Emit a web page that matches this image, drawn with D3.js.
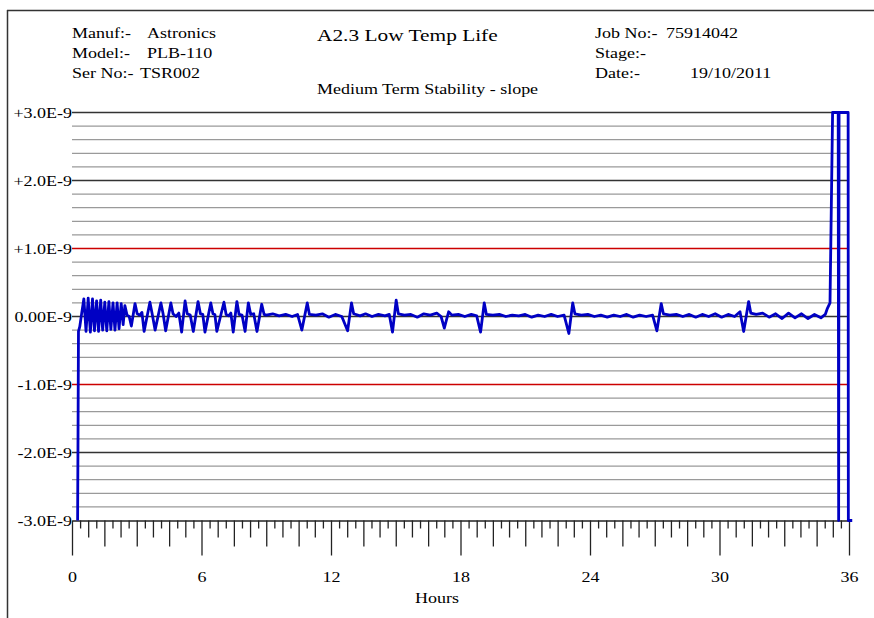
<!DOCTYPE html>
<html>
<head>
<meta charset="utf-8">
<script src="https://cdn.jsdelivr.net/npm/d3@7"></script>
<style>
  html, body { margin: 0; padding: 0; background: #ffffff; }
  svg { display: block; }
  text { font-family: "Liberation Serif", "Times New Roman", serif; fill: #000; }
</style>
</head>
<body>
<svg id="chart" width="874" height="618"></svg>
<script>
// ---------------- data ----------------
const headerLeftLabels = ["Manuf:-", "Model:-", "Ser No:-"];
const headerLeftValues = ["Astronics", "PLB-110", "TSR002"];
const headerRightLabels = ["Job No:-", "Stage:-", "Date:-"];
const headerRightValues = ["75914042", "", "19/10/2011"];
const chartTitle = "A2.3 Low Temp Life";
const chartSubtitle = "Medium Term Stability - slope";
const xAxisTitle = "Hours";

const yTickValues = [3, 2, 1, 0, -1, -2, -3];
const yTickLabels = ["+3.0E-9", "+2.0E-9", "+1.0E-9", "0.00E-9", "-1.0E-9", "-2.0E-9", "-3.0E-9"];
const xLabelValues = [0, 6, 12, 18, 24, 30, 36];

// time in hours
const hours = [
  0.26, 0.28, 0.30, 0.36, 0.45, 0.55, 0.65, 0.75, 0.85, 0.95,
  1.04, 1.14, 1.23, 1.33, 1.42, 1.52, 1.61, 1.71, 1.80, 1.90,
  1.99, 2.09, 2.18, 2.28, 2.37, 2.45, 2.55, 2.65, 2.75, 2.92,
  3.02, 3.14, 3.24, 3.34, 3.61, 3.72, 3.85, 4.12, 4.22, 4.34,
  4.58, 4.68, 4.82, 4.95, 5.08, 5.24, 5.34, 5.48, 5.62, 5.84,
  5.95, 6.06, 6.16, 6.43, 6.53, 6.62, 6.71, 7.04, 7.14, 7.26,
  7.36, 7.47, 7.64, 7.74, 7.88, 8.02, 8.17, 8.28, 8.42, 8.57,
  8.79, 8.90, 9.00, 9.30, 9.60, 9.90, 10.20, 10.45, 10.65, 10.90,
  11.00, 11.30, 11.60, 11.90, 12.20, 12.50, 12.77, 12.95, 13.05, 13.35,
  13.60, 13.90, 14.20, 14.50, 14.70, 14.85, 15.02, 15.12, 15.40, 15.70,
  16.00, 16.30, 16.60, 16.90, 17.10, 17.25, 17.45, 17.60, 17.90, 18.20,
  18.50, 18.75, 18.93, 19.10, 19.20, 19.50, 19.80, 20.10, 20.40, 20.70,
  21.00, 21.30, 21.60, 21.90, 22.20, 22.50, 22.80, 23.02, 23.20, 23.30,
  23.60, 23.90, 24.20, 24.50, 24.80, 25.10, 25.40, 25.70, 26.00, 26.30,
  26.60, 26.90, 27.10, 27.30, 27.40, 27.70, 28.00, 28.30, 28.60, 28.90,
  29.20, 29.50, 29.80, 30.10, 30.40, 30.70, 30.95, 31.12, 31.35, 31.45,
  31.70, 32.00, 32.30, 32.60, 32.90, 33.20, 33.50, 33.80, 34.10, 34.40,
  34.70, 34.90, 35.00, 35.12, 35.24, 35.50, 35.52, 35.54, 35.96, 35.97,
  36.15
];

// medium term stability slope, units of 1E-9
const slopeE9 = [
  -3.00, -1.70, -0.22, -0.15, 0.05, 0.26, -0.22, 0.27, -0.23, 0.26,
  -0.21, 0.23, -0.22, 0.24, -0.20, 0.21, -0.21, 0.22, -0.19, 0.20,
  -0.20, 0.20, -0.18, 0.19, -0.12, 0.16, 0.02, 0.00, -0.14, 0.19,
  0.04, 0.02, 0.06, -0.22, 0.21, 0.03, -0.20, 0.20, 0.04, -0.21,
  0.20, 0.04, 0.00, 0.05, -0.23, 0.23, 0.04, 0.02, -0.22, 0.22,
  0.04, 0.03, -0.23, 0.20, 0.04, 0.03, -0.22, 0.21, 0.03, 0.01,
  0.05, -0.23, 0.22, 0.03, 0.02, -0.22, 0.20, 0.03, 0.04, -0.22,
  0.18, 0.03, 0.02, 0.04, 0.01, 0.03, 0.00, 0.03, -0.20, 0.20,
  0.03, 0.02, 0.04, -0.01, 0.03, 0.00, -0.21, 0.20, 0.04, 0.01,
  0.04, 0.00, 0.03, 0.01, 0.03, -0.23, 0.24, 0.04, 0.02, 0.03,
  -0.01, 0.04, 0.02, 0.05, 0.00, -0.17, 0.07, 0.02, 0.03, 0.00,
  0.03, 0.01, -0.23, 0.20, 0.03, 0.02, 0.03, 0.00, 0.02, 0.01,
  0.03, -0.01, 0.02, 0.00, 0.03, 0.00, 0.02, -0.25, 0.20, 0.04,
  0.02, 0.03, 0.00, 0.02, -0.01, 0.02, 0.00, 0.03, -0.01, 0.02,
  0.00, 0.02, -0.21, 0.19, 0.04, 0.02, 0.03, 0.00, 0.03, -0.01,
  0.03, 0.00, 0.04, -0.01, 0.03, 0.00, 0.07, -0.22, 0.22, 0.05,
  0.03, 0.05, -0.01, 0.04, -0.03, 0.05, -0.02, 0.04, -0.03, 0.03,
  -0.02, 0.03, 0.12, 0.20, 3.00, 3.00, -3.00, 3.00, 3.00, -3.00,
  -3.00
];

// ---------------- drawing ----------------
const svg = d3.select("#chart");
const SX = 1.2; // horizontal stretch of the lettering in the original

const x = d3.scaleLinear().domain([0, 36]).range([72, 849]);
const y = d3.scaleLinear().domain([-3, 3]).range([520.5, 112.5]);

// frame (left and top border)
svg.append("line").attr("x1", 7.5).attr("x2", 7.5).attr("y1", 10).attr("y2", 618)
  .attr("stroke", "#333").attr("stroke-width", 1.5);
svg.append("line").attr("x1", 7).attr("x2", 874).attr("y1", 10.5).attr("y2", 10.5)
  .attr("stroke", "#333").attr("stroke-width", 1.5);

function label(tx, ty, str, size, sx) {
  return svg.append("text")
    .attr("transform", `translate(${tx},${ty}) scale(${sx || SX},1)`)
    .style("font-size", size + "px")
    .text(str);
}

// header
const rowY = [38, 58, 78];
const leftValX = [147, 147, 140];
headerLeftLabels.forEach((t, i) => {
  label(72, rowY[i], t, 15);
  label(leftValX[i], rowY[i], headerLeftValues[i], 15);
});
const rightValX = [666, 666, 690];
headerRightLabels.forEach((t, i) => {
  label(595, rowY[i], t, 15);
  label(rightValX[i], rowY[i], headerRightValues[i], 15);
});
label(317, 41, chartTitle, 17.5, 1.22);
label(317, 94, chartSubtitle, 15);

// grid lines
const minorVals = d3.range(-28, 29, 2).map(v => v / 10).filter(v => Math.abs(v - Math.round(v)) > 1e-6);
svg.append("g").selectAll("line").data(minorVals).join("line")
  .attr("x1", x(0)).attr("x2", x(36))
  .attr("y1", d => y(d)).attr("y2", d => y(d))
  .attr("stroke", "#9a9a9a").attr("stroke-width", 1.3);

const majorVals = yTickValues.filter(v => v !== -3);
svg.append("g").selectAll("line").data(majorVals).join("line")
  .attr("x1", x(0)).attr("x2", x(36))
  .attr("y1", d => y(d)).attr("y2", d => y(d))
  .attr("stroke", d => Math.abs(d) === 1 ? "#cc0000" : "#333")
  .attr("stroke-width", 1.5);

// y labels
const yAxis = d3.axisLeft(y).tickValues(yTickValues)
  .tickFormat((d, i) => yTickLabels[i]).tickSize(0).tickPadding(0);
const gy = svg.append("g").attr("transform", `translate(${x(0)},0)`).call(yAxis);
gy.select(".domain").remove();
gy.selectAll("text")
  .attr("transform", `scale(${SX},1)`)
  .style("font-family", "'Liberation Serif', serif").style("font-size", "15px").attr("fill", "#000");

// x axis
const tickVals = d3.range(0, 97).map(i => i * 0.375);
const xAxis = d3.axisBottom(x).tickValues(tickVals)
  .tickFormat(d => (xLabelValues.includes(d) ? d3.format("d")(d) : ""))
  .tickSizeOuter(0);
const gx = svg.append("g").attr("transform", `translate(0,${y(-3)})`).call(xAxis);
gx.select(".domain").attr("stroke", "#222").attr("stroke-width", 1.5);
gx.selectAll(".tick line")
  .attr("stroke", "#222").attr("stroke-width", 1.3)
  .attr("y2", (d, i) => i % 16 === 0 ? 35 : (i % 4 === 0 ? 26 : (i % 2 === 0 ? 17 : 8)));
gx.selectAll(".tick text")
  .attr("y", 0).attr("dy", 0)
  .attr("transform", `translate(0,61.5) scale(${SX},1)`)
  .style("font-family", "'Liberation Serif', serif").style("font-size", "15px").attr("fill", "#000");

label(415, 603, xAxisTitle, 15);

// data line
const pts = hours.map((h, i) => [h, slopeE9[i]]);
const line = d3.line().x(d => x(d[0])).y(d => y(d[1]));
svg.append("path").datum(pts)
  .attr("d", line)
  .attr("fill", "none")
  .attr("stroke", "#0000c4")
  .attr("stroke-width", 2.8)
  .attr("stroke-linejoin", "round");
</script>
</body>
</html>
